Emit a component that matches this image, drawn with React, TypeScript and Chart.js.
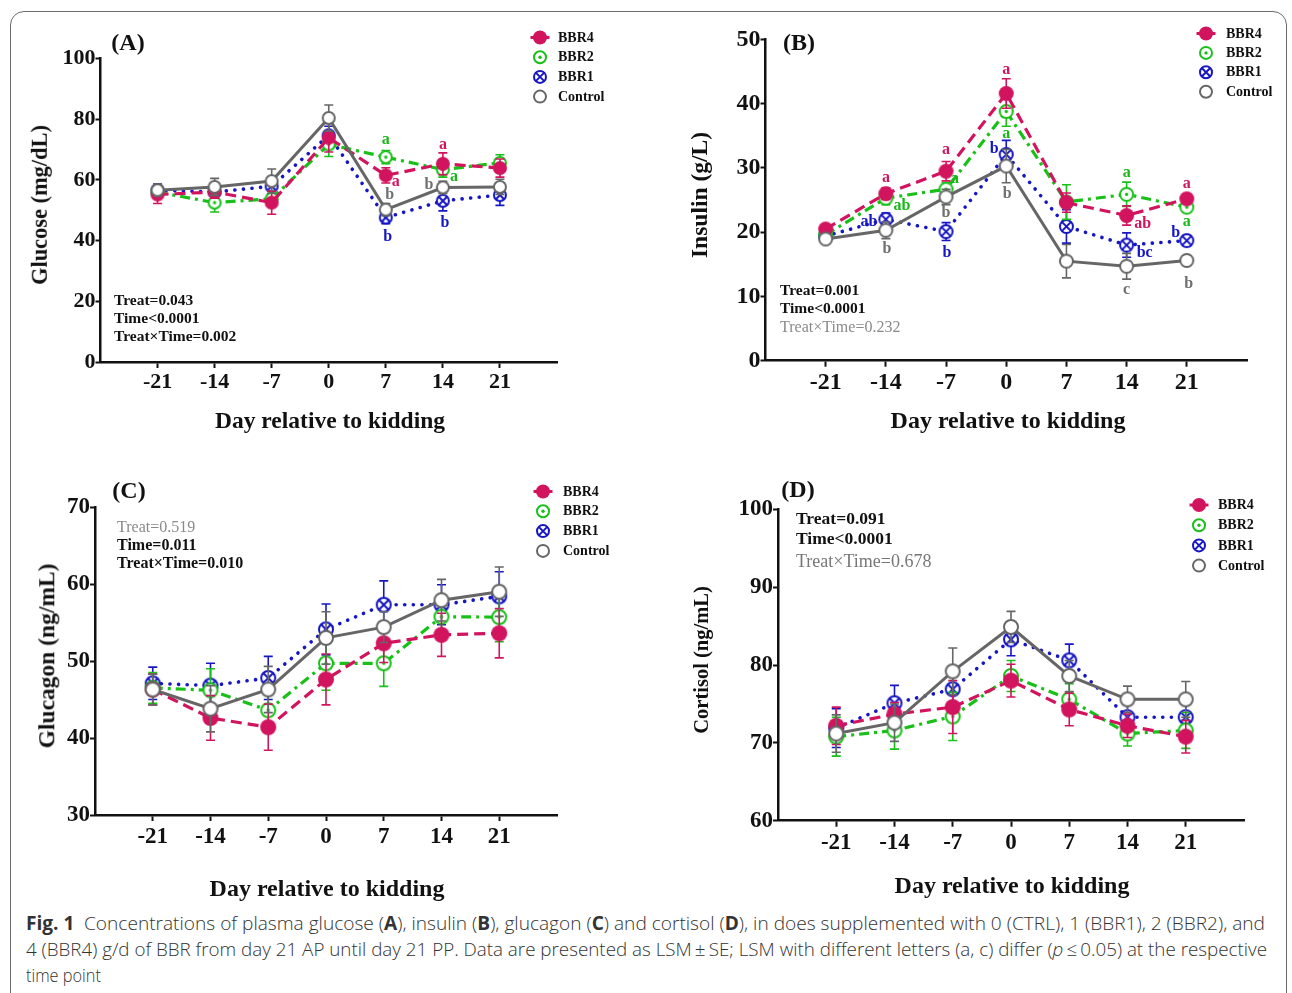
import React, { useEffect, useLayoutEffect, useRef } from 'react';
import { Chart, registerables } from 'chart.js';

Chart.register(...registerables);

const SERIF = '"Liberation Serif", "Times New Roman", serif';
const SANS = '"Open Sans", "Noto Sans", sans-serif';

type SeriesName = 'BBR4' | 'BBR2' | 'BBR1' | 'Control';

// ---------------- DATA ----------------
const DAYS = [-21, -14, -7, 0, 7, 14, 21];
const LEGEND_ORDER: SeriesName[] = ['BBR4', 'BBR2', 'BBR1', 'Control'];

// (A) Glucose (mg/dL)
const GLU_BBR4 = [55.2, 56.0, 52.5, 73.9, 61.5, 65.3, 63.9];
const GLU_BBR4_SE = [3.0, 2.0, 3.8, 4.7, 2.5, 3.6, 3.0];
const GLU_BBR2 = [56.0, 52.5, 53.8, 71.7, 67.5, 63.4, 65.6];
const GLU_BBR2_SE = [2.0, 3.1, 2.5, 4.0, 2.2, 2.5, 2.7];
const GLU_BBR1 = [56.6, 56.0, 57.9, 74.7, 47.6, 53.1, 55.0];
const GLU_BBR1_SE = [2.0, 2.5, 2.5, 3.0, 2.0, 3.3, 3.4];
const GLU_CTRL = [56.6, 57.7, 59.6, 80.4, 50.2, 57.5, 57.7];
const GLU_CTRL_SE = [2.0, 2.8, 4.0, 4.3, 2.0, 2.0, 2.5];
const GLU_TICKS = [0, 20, 40, 60, 80, 100];

// (B) Insulin (g/L)
const INS_BBR4 = [20.5, 26.0, 29.5, 41.6, 24.6, 22.6, 25.2];
const INS_BBR4_SE = [0.6, 0.9, 1.5, 2.3, 1.5, 1.5, 0.7];
const INS_BBR2 = [19.6, 25.3, 26.7, 38.8, 24.7, 25.9, 23.9];
const INS_BBR2_SE = [0.6, 1.0, 1.0, 2.3, 2.7, 1.9, 0.8];
const INS_BBR1 = [19.4, 22.0, 20.1, 32.1, 20.9, 18.0, 18.7];
const INS_BBR1_SE = [0.6, 1.0, 1.4, 2.2, 2.6, 1.9, 0.8];
const INS_CTRL = [18.95, 20.3, 25.5, 30.3, 15.5, 14.7, 15.6];
const INS_CTRL_SE = [0.5, 1.3, 1.2, 2.6, 2.6, 2.0, 0.6];
const INS_TICKS = [0, 10, 20, 30, 40, 50];

// (C) Glucagon (ng/mL)
const GCG_BBR4 = [46.3, 42.6, 41.4, 47.6, 52.3, 53.4, 53.6];
const GCG_BBR4_SE = [2.0, 2.9, 3.0, 3.3, 2.5, 2.8, 3.2];
const GCG_BBR2 = [46.5, 46.2, 43.6, 49.7, 49.7, 55.75, 55.7];
const GCG_BBR2_SE = [2.0, 2.8, 2.5, 3.5, 3.0, 2.5, 3.2];
const GCG_BBR1 = [47.1, 46.8, 47.8, 54.1, 57.3, 57.3, 58.4];
const GCG_BBR1_SE = [2.1, 2.9, 2.8, 3.3, 3.1, 2.6, 3.2];
const GCG_CTRL = [46.3, 43.8, 46.3, 53.0, 54.4, 57.9, 59.0];
const GCG_CTRL_SE = [2.0, 3.0, 3.0, 3.4, 2.0, 2.7, 3.2];
const GCG_TICKS = [30, 40, 50, 60, 70];

// (D) Cortisol (ng/mL)
const COR_BBR4 = [72.2, 73.7, 74.6, 78.0, 74.3, 72.2, 70.8];
const COR_BBR4_SE = [2.4, 1.5, 3.4, 2.1, 2.1, 1.5, 2.1];
const COR_BBR2 = [70.8, 71.6, 73.4, 78.6, 75.6, 71.2, 71.6];
const COR_BBR2_SE = [2.5, 2.4, 3.1, 2.0, 2.0, 1.6, 2.3];
const COR_BBR1 = [71.9, 75.1, 76.9, 83.3, 80.6, 73.3, 73.3];
const COR_BBR1_SE = [2.5, 2.3, 2.9, 2.1, 2.1, 1.7, 2.3];
const COR_CTRL = [71.2, 72.6, 79.2, 84.9, 78.6, 75.6, 75.6];
const COR_CTRL_SE = [2.4, 2.4, 3.0, 2.0, 2.0, 1.7, 2.3];
const COR_TICKS = [60, 70, 80, 90, 100];

// significance letters: [series, day index, letter]
const GLU_LETTERS: [SeriesName, number, string][] = [
  ['BBR2', 4, 'a'], ['BBR4', 4, 'a'], ['Control', 4, 'b'], ['BBR1', 4, 'b'],
  ['BBR4', 5, 'a'], ['BBR2', 5, 'a'], ['Control', 5, 'b'], ['BBR1', 5, 'b'],
];
const INS_LETTERS: [SeriesName, number, string][] = [
  ['BBR4', 1, 'a'], ['BBR2', 1, 'ab'], ['BBR1', 1, 'ab'], ['Control', 1, 'b'],
  ['BBR4', 2, 'a'], ['BBR2', 2, 'a'], ['Control', 2, 'b'], ['BBR1', 2, 'b'],
  ['BBR4', 3, 'a'], ['BBR2', 3, 'a'], ['BBR1', 3, 'b'], ['Control', 3, 'b'],
  ['BBR2', 5, 'a'], ['BBR4', 5, 'ab'], ['BBR1', 5, 'bc'], ['Control', 5, 'c'],
  ['BBR4', 6, 'a'], ['BBR2', 6, 'a'], ['BBR1', 6, 'b'], ['Control', 6, 'b'],
];
// label offsets from the marker (px), same order as above
const GLU_LETTER_OFFSETS: [number, number][] = [
  [0, -17], [10, 7], [4, -15], [2, 19],
  [0, -19], [11, 7], [-14, -3], [2, 22],
];
const INS_LETTER_OFFSETS: [number, number][] = [
  [0, -16], [16, 8], [-17, 2], [1, 19],
  [0, -21], [9, -10], [0, 16], [1, 21],
  [0, -24], [0, 22], [-12, -6], [1, 28],
  [0, -21], [16, 8], [18, 8], [0, 24],
  [0, -15], [0, 15], [-11, -8], [2, 23],
];

// ---------------- STYLES ----------------
const STYLE: Record<SeriesName, { color: string; letter: string; kind: string; dash: number[]; width: number; cap: CanvasLineCap }> = {
  BBR4: { color: '#d2145f', letter: '#d2145f', kind: 'filled', dash: [11, 6], width: 3.2, cap: 'butt' },
  BBR2: { color: '#18c018', letter: '#18b818', kind: 'dot', dash: [10, 5, 3, 5], width: 3.2, cap: 'butt' },
  BBR1: { color: '#1616c4', letter: '#1616c4', kind: 'cross', dash: [0.1, 8.5], width: 3.6, cap: 'round' },
  Control: { color: '#666666', letter: '#707070', kind: 'open', dash: [], width: 3, cap: 'butt' },
};

function drawMarker(g: CanvasRenderingContext2D, kind: string, color: string, x: number, y: number, r: number) {
  g.save();
  g.setLineDash([]);
  g.lineWidth = 2;
  g.beginPath();
  g.arc(x, y, kind === 'filled' ? r : r - 1, 0, Math.PI * 2);
  if (kind === 'filled') {
    g.fillStyle = color;
    g.fill();
  } else {
    g.fillStyle = '#ffffff';
    g.fill();
    g.strokeStyle = color;
    g.stroke();
  }
  if (kind === 'dot') {
    g.beginPath();
    g.arc(x, y, 1.7, 0, Math.PI * 2);
    g.fillStyle = color;
    g.fill();
  }
  if (kind === 'cross') {
    const d = (r - 1) * 0.7071;
    g.beginPath();
    g.moveTo(x - d, y - d);
    g.lineTo(x + d, y + d);
    g.moveTo(x + d, y - d);
    g.lineTo(x - d, y + d);
    g.strokeStyle = color;
    g.stroke();
  }
  g.restore();
}

function makeMarker(kind: string, color: string, r: number) {
  const size = Math.ceil(2 * r + 4);
  const c = document.createElement('canvas');
  c.width = size;
  c.height = size;
  const g = c.getContext('2d')!;
  drawMarker(g, kind, color, size / 2, size / 2, r);
  return c;
}

interface PanelDef {
  canvas: { left: number; top: number; width: number; height: number };
  area: { left: number; right: number; top: number; bottom: number };
  yTicks: number[];
  means: Record<SeriesName, number[]>;
  ses: Record<SeriesName, number[]>;
  tickFont: number;
  xLabelPad: number;
  markerR: number;
  legend: { x: number; y: number; gap: number; textX: number; font: number };
  letters: [SeriesName, number, string][];
  letterOffsets: [number, number][];
  letterFont: number;
}

const PANELS: PanelDef[] = [
  {
    canvas: { left: 0, top: 0, width: 646, height: 452 },
    area: { left: 100.5, right: 557, top: 58.5, bottom: 362 },
    yTicks: GLU_TICKS,
    means: { BBR4: GLU_BBR4, BBR2: GLU_BBR2, BBR1: GLU_BBR1, Control: GLU_CTRL },
    ses: { BBR4: GLU_BBR4_SE, BBR2: GLU_BBR2_SE, BBR1: GLU_BBR1_SE, Control: GLU_CTRL_SE },
    tickFont: 22, xLabelPad: 1, markerR: 7,
    legend: { x: 540, y: 37.5, gap: 19.7, textX: 558, font: 14 },
    letters: GLU_LETTERS, letterOffsets: GLU_LETTER_OFFSETS, letterFont: 16,
  },
  {
    canvas: { left: 646, top: 0, width: 646, height: 452 },
    area: { left: 119.5, right: 601, top: 39.5, bottom: 360.7 },
    yTicks: INS_TICKS,
    means: { BBR4: INS_BBR4, BBR2: INS_BBR2, BBR1: INS_BBR1, Control: INS_CTRL },
    ses: { BBR4: INS_BBR4_SE, BBR2: INS_BBR2_SE, BBR1: INS_BBR1_SE, Control: INS_CTRL_SE },
    tickFont: 24, xLabelPad: 2, markerR: 7.5,
    legend: { x: 560, y: 33.5, gap: 19.4, textX: 580, font: 14 },
    letters: INS_LETTERS, letterOffsets: INS_LETTER_OFFSETS, letterFont: 16,
  },
  {
    canvas: { left: 0, top: 452, width: 646, height: 440 },
    area: { left: 95, right: 557, top: 55, bottom: 363 },
    yTicks: GCG_TICKS,
    means: { BBR4: GCG_BBR4, BBR2: GCG_BBR2, BBR1: GCG_BBR1, Control: GCG_CTRL },
    ses: { BBR4: GCG_BBR4_SE, BBR2: GCG_BBR2_SE, BBR1: GCG_BBR1_SE, Control: GCG_CTRL_SE },
    tickFont: 23, xLabelPad: 2, markerR: 8,
    legend: { x: 543, y: 39.5, gap: 19.8, textX: 563, font: 14 },
    letters: [], letterOffsets: [], letterFont: 16,
  },
  {
    canvas: { left: 646, top: 452, width: 646, height: 440 },
    area: { left: 132, right: 598, top: 57.5, bottom: 368.7 },
    yTicks: COR_TICKS,
    means: { BBR4: COR_BBR4, BBR2: COR_BBR2, BBR1: COR_BBR1, Control: COR_CTRL },
    ses: { BBR4: COR_BBR4_SE, BBR2: COR_BBR2_SE, BBR1: COR_BBR1_SE, Control: COR_CTRL_SE },
    tickFont: 23, xLabelPad: 3, markerR: 8,
    legend: { x: 553, y: 53, gap: 20.2, textX: 572, font: 14 },
    letters: [], letterOffsets: [], letterFont: 16,
  },
];

const DRAW_ORDER: SeriesName[] = ['Control', 'BBR4', 'BBR2', 'BBR1'];

function buildChart(canvas: HTMLCanvasElement, p: PanelDef) {
  const markers: Record<string, HTMLCanvasElement> = {};
  LEGEND_ORDER.forEach((n) => {
    markers[n] = makeMarker(STYLE[n].kind, STYLE[n].color, p.markerR);
  });
  const datasets = DRAW_ORDER.map((name) => ({
    label: name,
    data: DAYS.map((d, i) => ({ x: d, y: p.means[name][i] })),
    borderColor: STYLE[name].color,
    backgroundColor: STYLE[name].color,
    borderWidth: STYLE[name].width,
    borderDash: STYLE[name].dash,
    borderCapStyle: STYLE[name].cap,
    fill: false,
    tension: 0,
    pointStyle: markers[name],
    pointRadius: p.markerR,
    pointHoverRadius: p.markerR,
    clip: false,
  }));
  const xH = 40;
  const errorBars = {
    id: 'errorBars',
    beforeDatasetDraw(chart: any, args: any) {
      const name = chart.data.datasets[args.index].label as SeriesName;
      const se = p.ses[name];
      const m = p.means[name];
      const ys = chart.scales.y;
      const ctx = chart.ctx as CanvasRenderingContext2D;
      const cap = 4.5;
      ctx.save();
      ctx.setLineDash([]);
      ctx.strokeStyle = STYLE[name].color;
      ctx.lineWidth = 1.6;
      args.meta.data.forEach((pt: any, i: number) => {
        const yt = ys.getPixelForValue(m[i] + se[i]);
        const yb = ys.getPixelForValue(m[i] - se[i]);
        const x = pt.x;
        ctx.beginPath();
        ctx.moveTo(x, yt);
        ctx.lineTo(x, yb);
        ctx.moveTo(x - cap, yt);
        ctx.lineTo(x + cap, yt);
        ctx.moveTo(x - cap, yb);
        ctx.lineTo(x + cap, yb);
        ctx.stroke();
      });
      ctx.restore();
    },
  };
  const letters = {
    id: 'letters',
    afterDatasetsDraw(chart: any) {
      const ctx = chart.ctx as CanvasRenderingContext2D;
      ctx.save();
      ctx.font = `bold ${p.letterFont}px ${SERIF}`;
      ctx.textAlign = 'center';
      ctx.textBaseline = 'middle';
      p.letters.forEach(([name, idx, txt], k) => {
        const di = chart.data.datasets.findIndex((d: any) => d.label === name);
        const pt = chart.getDatasetMeta(di).data[idx];
        const [dx, dy] = p.letterOffsets[k];
        ctx.fillStyle = STYLE[name].letter;
        ctx.fillText(txt, pt.x + dx, pt.y + dy);
      });
      ctx.restore();
    },
  };
  const legend = {
    id: 'customLegend',
    afterDraw(chart: any) {
      const ctx = chart.ctx as CanvasRenderingContext2D;
      const L = p.legend;
      ctx.save();
      LEGEND_ORDER.forEach((name, i) => {
        const y = L.y + i * L.gap;
        if (name === 'BBR4') {
          ctx.strokeStyle = STYLE[name].color;
          ctx.lineWidth = 3;
          ctx.beginPath();
          ctx.moveTo(L.x - 9.5, y);
          ctx.lineTo(L.x + 9.5, y);
          ctx.stroke();
        }
        drawMarker(ctx, STYLE[name].kind, STYLE[name].color, L.x, y, 7);
        ctx.fillStyle = '#111';
        ctx.font = `bold ${L.font}px ${SERIF}`;
        ctx.textAlign = 'left';
        ctx.textBaseline = 'middle';
        ctx.fillText(name, L.textX, y + 0.5);
      });
      ctx.restore();
    },
  };
  const yMin = p.yTicks[0];
  const yMax = p.yTicks[p.yTicks.length - 1];
  const config: any = {
    type: 'line',
    data: { datasets },
    options: {
      animation: false,
      responsive: false,
      maintainAspectRatio: false,
      events: [],
      layout: {
        padding: {
          left: 0,
          top: p.area.top,
          right: p.canvas.width - p.area.right,
          bottom: p.canvas.height - p.area.bottom - xH,
        },
      },
      plugins: { legend: { display: false }, tooltip: { enabled: false } },
      scales: {
        x: {
          type: 'linear',
          min: -28,
          max: 28,
          afterBuildTicks: (s: any) => {
            s.ticks = DAYS.map((v) => ({ value: v }));
          },
          afterFit: (s: any) => {
            s.height = xH;
          },
          ticks: {
            font: { family: SERIF, size: p.tickFont, weight: 'bold' },
            color: '#111',
            padding: p.xLabelPad,
            maxRotation: 0,
            autoSkip: false,
            callback: (v: any) => String(v),
          },
          grid: { drawOnChartArea: false, drawTicks: true, tickLength: 6, tickWidth: 2, tickColor: '#111' },
          border: { display: true, color: '#111', width: 2.5 },
        },
        y: {
          type: 'linear',
          min: yMin,
          max: yMax,
          afterBuildTicks: (s: any) => {
            s.ticks = p.yTicks.map((v) => ({ value: v }));
          },
          afterFit: (s: any) => {
            s.width = p.area.left;
          },
          ticks: {
            font: { family: SERIF, size: p.tickFont, weight: 'bold' },
            color: '#111',
            padding: 0,
            autoSkip: false,
          },
          grid: { drawOnChartArea: false, drawTicks: true, tickLength: 5, tickWidth: 2, tickColor: '#111' },
          border: { display: true, color: '#111', width: 2.5 },
        },
      },
    },
    plugins: [errorBars, letters, legend],
  };
  return new Chart(canvas, config);
}

function Panel({ p }: { p: PanelDef }) {
  const ref = useRef<HTMLCanvasElement>(null);
  useEffect(() => {
    if (!ref.current) return;
    const chart = buildChart(ref.current, p);
    return () => chart.destroy();
  }, [p]);
  return (
    <canvas
      ref={ref}
      width={p.canvas.width}
      height={p.canvas.height}
      style={{
        position: 'absolute',
        left: p.canvas.left,
        top: p.canvas.top,
        width: p.canvas.width,
        height: p.canvas.height,
      }}
    />
  );
}

interface TextDef {
  t: string;
  x: number;
  y: number;
  s: number;
  w?: number;
  c?: string;
  rot?: boolean;
  left?: boolean;
}

const TEXTS: TextDef[] = [
  { t: '(A)', x: 128, y: 42, s: 24, w: 700 },
  { t: '(B)', x: 799, y: 42, s: 24, w: 700 },
  { t: '(C)', x: 129, y: 490, s: 24, w: 700 },
  { t: '(D)', x: 798, y: 489, s: 24, w: 700 },
  { t: 'Day relative to kidding', x: 330, y: 421, s: 23.5, w: 700 },
  { t: 'Day relative to kidding', x: 1008, y: 420, s: 24, w: 700 },
  { t: 'Day relative to kidding', x: 327, y: 888, s: 24, w: 700 },
  { t: 'Day relative to kidding', x: 1012, y: 885, s: 24, w: 700 },
  { t: 'Glucose (mg/dL)', x: 40, y: 205, s: 22.4, w: 700, rot: true },
  { t: 'Insulin (g/L)', x: 700, y: 195, s: 23.5, w: 700, rot: true },
  { t: 'Glucagon (ng/mL)', x: 47, y: 656, s: 23.5, w: 700, rot: true },
  { t: 'Cortisol (ng/mL)', x: 701, y: 660, s: 20.5, w: 700, rot: true },
  { t: 'Treat=0.043', x: 114, y: 300, s: 15.5, w: 700, left: true },
  { t: 'Time<0.0001', x: 114, y: 318, s: 15.5, w: 700, left: true },
  { t: 'Treat×Time=0.002', x: 114, y: 336, s: 15.5, w: 700, left: true },
  { t: 'Treat=0.001', x: 780, y: 290, s: 15.5, w: 700, left: true },
  { t: 'Time<0.0001', x: 780, y: 308, s: 15.5, w: 700, left: true },
  { t: 'Treat×Time=0.232', x: 780, y: 327, s: 16, w: 400, c: '#8a8a8a', left: true },
  { t: 'Treat=0.519', x: 117, y: 527, s: 16, w: 400, c: '#8a8a8a', left: true },
  { t: 'Time=0.011', x: 117, y: 545, s: 16, w: 700, left: true },
  { t: 'Treat×Time=0.010', x: 117, y: 563, s: 16, w: 700, left: true },
  { t: 'Treat=0.091', x: 796, y: 519, s: 17.5, w: 700, left: true },
  { t: 'Time<0.0001', x: 796, y: 539, s: 17.5, w: 700, left: true },
  { t: 'Treat×Time=0.678', x: 796, y: 561, s: 18, w: 400, c: '#777777', left: true },
];

const BOLD: React.CSSProperties = { fontWeight: 700 };

function FitLine({ width, top, children }: { width: number; top: number; children: React.ReactNode }) {
  const ref = useRef<HTMLDivElement>(null);
  useLayoutEffect(() => {
    const el = ref.current;
    if (!el) return;
    el.style.transform = 'none';
    const w = el.getBoundingClientRect().width;
    if (w > 0) el.style.transform = `scaleX(${width / w})`;
  }, [width]);
  return (
    <div
      ref={ref}
      style={{
        position: 'absolute',
        left: 26,
        top,
        whiteSpace: 'nowrap',
        transformOrigin: 'left center',
        fontFamily: SANS,
        fontSize: 19,
        fontWeight: 300,
        lineHeight: '26px',
        color: '#333333',
      }}
    >
      {children}
    </div>
  );
}

export default function App() {
  return (
    <div
      style={{
        position: 'absolute',
        left: 0,
        top: 0,
        width: 1292,
        height: 993,
        overflow: 'hidden',
        background: '#ffffff',
      }}
    >
      <div
        style={{
          position: 'absolute',
          left: 10,
          top: 11,
          width: 1277,
          height: 1010,
          border: '1px solid #6a6a6a',
          borderRadius: 14,
          boxSizing: 'border-box',
        }}
      />
      {PANELS.map((p, i) => (
        <Panel key={i} p={p} />
      ))}
      {TEXTS.map((d, i) => (
        <div
          key={i}
          style={{
            position: 'absolute',
            left: d.x,
            top: d.y,
            whiteSpace: 'nowrap',
            fontFamily: SERIF,
            fontSize: d.s,
            fontWeight: d.w ?? 700,
            color: d.c ?? '#111111',
            lineHeight: 1,
            transform: d.rot
              ? 'translate(-50%, -50%) rotate(-90deg)'
              : d.left
              ? 'translate(0, -50%)'
              : 'translate(-50%, -50%)',
          }}
        >
          {d.t}
        </div>
      ))}
      <FitLine width={1239} top={910}>
        <span style={BOLD}>Fig. 1</span>
        {'\u2002Concentrations of plasma glucose ('}
        <span style={BOLD}>A</span>
        {'), insulin ('}
        <span style={BOLD}>B</span>
        {'), glucagon ('}
        <span style={BOLD}>C</span>
        {') and cortisol ('}
        <span style={BOLD}>D</span>
        {'), in does supplemented with 0 (CTRL), 1 (BBR1), 2 (BBR2), and'}
      </FitLine>
      <FitLine width={1241} top={936}>
        {'4 (BBR4) g/d of BBR from day 21 AP until day 21 PP. Data are presented as LSM\u2009\u00b1\u2009SE; LSM with different letters (a, c) differ ('}
        <i>p</i>
        {'\u2009\u2264\u20090.05) at the respective'}
      </FitLine>
      <div
        style={{
          position: 'absolute',
          left: 26,
          top: 962,
          whiteSpace: 'nowrap',
          fontFamily: SANS,
          fontSize: 19,
          fontWeight: 300,
          lineHeight: '26px',
          color: '#333333',
          transform: 'scaleX(0.86)',
          transformOrigin: 'left center',
        }}
      >
        time point
      </div>
    </div>
  );
}
